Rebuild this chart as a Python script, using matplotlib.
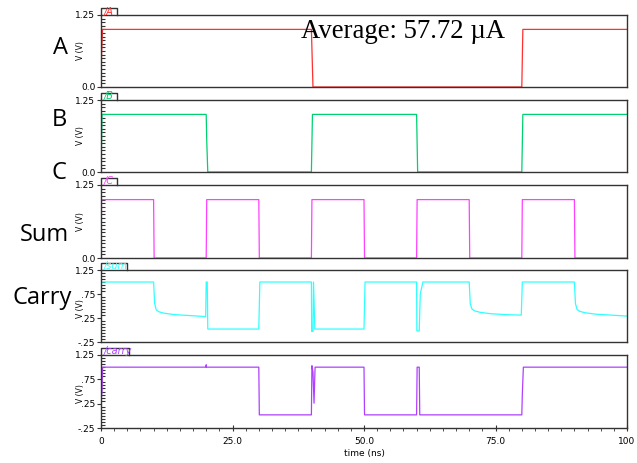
import matplotlib
matplotlib.use("Agg")
import matplotlib.pyplot as plt
from matplotlib.ticker import FixedLocator, FixedFormatter, MultipleLocator

# signal names, colours and waveform breakpoints (time in ns, volts)
names = ["/A", "/B", "/C", "/sum", "/carry"]
side_labels = ["A", "B", "C", "Sum", "Carry"]
colors = ["#ff3030", "#00d070", "#ff40ff", "#30ffff", "#b040ff"]

a_t = [0, 0.1, 0.3, 40.0, 40.3, 80.0, 80.2, 100]
a_v = [0, 0.55, 1.0, 1.0, 0.0, 0.0, 1.0, 1.0]

b_t = [0, 0.2, 20.0, 20.1, 20.3, 40.0, 40.2, 60.0, 60.2, 80.0, 80.2, 100]
b_v = [0, 1.0, 1.0, 0.55, 0.0, 0.0, 1.0, 1.0, 0.0, 0.0, 1.0, 1.0]

c_t = [0, 0.1, 10.0, 10.1, 20.0, 20.1, 30.0, 30.1, 40.0, 40.1, 50.0, 50.1,
       60.0, 60.1, 70.0, 70.1, 80.0, 80.1, 90.0, 90.1, 100]
c_v = [0, 1.0, 1.0, 0.0, 0.0, 1.0, 1.0, 0.0, 0.0, 1.0, 1.0, 0.0,
       0.0, 1.0, 1.0, 0.0, 0.0, 1.0, 1.0, 0.0, 0.0]

sum_t = [0, 10.0, 10.2, 10.5, 11, 12, 14, 17, 19.9, 20.0, 20.2, 20.3,
         30.0, 30.2, 40.0, 40.05, 40.3, 40.4, 40.65, 50.0, 50.2,
         60.0, 60.05, 60.5, 60.7, 61.2, 70.0, 70.2, 70.5, 71, 72, 74, 77, 79.9, 80.1,
         90.0, 90.2, 90.5, 91, 92, 94, 97, 100]
sum_v = [1.0, 1.0, 0.55, 0.42, 0.38, 0.35, 0.32, 0.30, 0.28, 1.0, 1.0, 0.02,
         0.02, 1.0, 1.0, -0.03, -0.03, 1.0, 0.02, 0.02, 1.0,
         1.0, -0.02, -0.02, 0.75, 1.0, 1.0, 0.55, 0.44, 0.40, 0.37, 0.34, 0.32, 0.31, 1.0,
         1.0, 0.55, 0.43, 0.39, 0.36, 0.33, 0.31, 0.29]

carry_t = [0, 0.2, 0.3, 19.95, 20.0, 20.05, 30.0, 30.1, 40.0, 40.1, 40.3, 40.5,
           40.7, 50.0, 50.1, 60.0, 60.1, 60.5, 60.6, 80.0, 80.1, 80.3, 100]
carry_v = [0.3, 0.5, 1.0, 1.0, 1.05, 1.0, 1.0, 0.02, 0.02, 1.03, 0.9, 0.26,
           1.0, 1.0, 0.02, 0.02, 1.0, 1.0, 0.02, 0.02, 0.45, 1.0, 1.0]

waves = [(a_t, a_v), (b_t, b_v), (c_t, c_v), (sum_t, sum_v), (carry_t, carry_v)]

ylims = [(0, 1.25), (0, 1.25), (0, 1.25), (-0.25, 1.25), (-0.25, 1.25)]
yticks_digital = [0, 1.25]
yticklabels_digital = ["0.0", "1.25"]
yticks_analog = [-0.25, 0.25, 0.75, 1.25]
yticklabels_analog = ["-.25", ".25", ".75", "1.25"]
xticks = [0, 25, 50, 75, 100]
xticklabels = ["0", "25.0", "50.0", "75.0", "100"]

small_font = ["Liberation Sans Narrow", "DejaVu Sans"]

W, H = 637, 463
fig = plt.figure(figsize=(W / 100, H / 100), dpi=100)

# panel top/bottom in pixels
panel_px = [(15, 87), (100, 172), (185, 258), (270, 342), (355, 428)]
tab_w = [16, 16, 16, 26, 28]
left_px, right_px = 101, 627
label_pos = [(60, 48), (59, 120), (59, 173), (44, 235), (42, 298)]

for i, (top, bot) in enumerate(panel_px):
    ax = fig.add_axes([left_px / W, 1 - bot / H, (right_px - left_px) / W, (bot - top) / H])
    t, v = waves[i]
    ax.plot(t, v, color=colors[i], lw=0.9)
    ax.set_xlim(0, 100)
    ax.set_ylim(*ylims[i])
    for s in ax.spines.values():
        s.set_color("#333333")
        s.set_linewidth(1.0)
    if i < 3:
        ax.yaxis.set_major_locator(FixedLocator(yticks_digital))
        ax.yaxis.set_major_formatter(FixedFormatter(yticklabels_digital))
        label_y = 0.5
    else:
        ax.yaxis.set_major_locator(FixedLocator(yticks_analog))
        ax.yaxis.set_major_formatter(FixedFormatter(yticklabels_analog))
        label_y = 0.47
    ax.yaxis.set_minor_locator(MultipleLocator(0.0625))
    ax.tick_params(axis="y", which="major", direction="out", length=3, width=0.8,
                   labelsize=6.5, pad=1, color="#333333")
    ax.tick_params(axis="y", which="minor", direction="in", length=3, width=0.8, color="#333333")
    for lab in ax.get_yticklabels():
        lab.set_family(small_font)
    ax.set_ylabel("V (V)", fontsize=5.5, family=small_font)
    ax.yaxis.set_label_coords(-16 / (right_px - left_px), label_y)

    if i == 4:
        ax.xaxis.set_major_locator(FixedLocator(xticks))
        ax.xaxis.set_major_formatter(FixedFormatter(xticklabels))
        ax.xaxis.set_minor_locator(MultipleLocator(2.5))
        ax.tick_params(axis="x", which="major", direction="inout", length=5, width=0.8,
                       labelsize=6.5, pad=4, color="#333333")
        ax.tick_params(axis="x", which="minor", direction="out", length=2.5, width=0.6,
                       color="#333333")
        for lab in ax.get_xticklabels():
            lab.set_family(small_font)
        ax.set_xlabel("time (ns)", fontsize=6.5, labelpad=2, family=small_font)
    else:
        ax.set_xticks([])

    # little name tab sitting on the top edge
    tw = tab_w[i] / (right_px - left_px)
    th = 7 / (bot - top)
    ax.plot([0, 0, tw, tw], [1, 1 + th, 1 + th, 1], transform=ax.transAxes,
            color="#333333", lw=1.0, clip_on=False)
    ax.text(0.006, 1 + th / 2, names[i], transform=ax.transAxes, color=colors[i],
            fontsize=7, va="center", ha="left", family=small_font, style="italic",
            clip_on=False)

    # big side label
    lx, ly = label_pos[i]
    fig.text(lx / W, 1 - ly / H, side_labels[i], fontsize=17, ha="center", va="center",
             family=["Open Sans", "DejaVu Sans"])

fig.text(403 / W, 1 - 32 / H, "Average: 57.72 \u00b5A", fontsize=19.3, ha="center",
         va="center", family=["Liberation Serif", "DejaVu Serif"])

fig.savefig("out.png", dpi=100)
